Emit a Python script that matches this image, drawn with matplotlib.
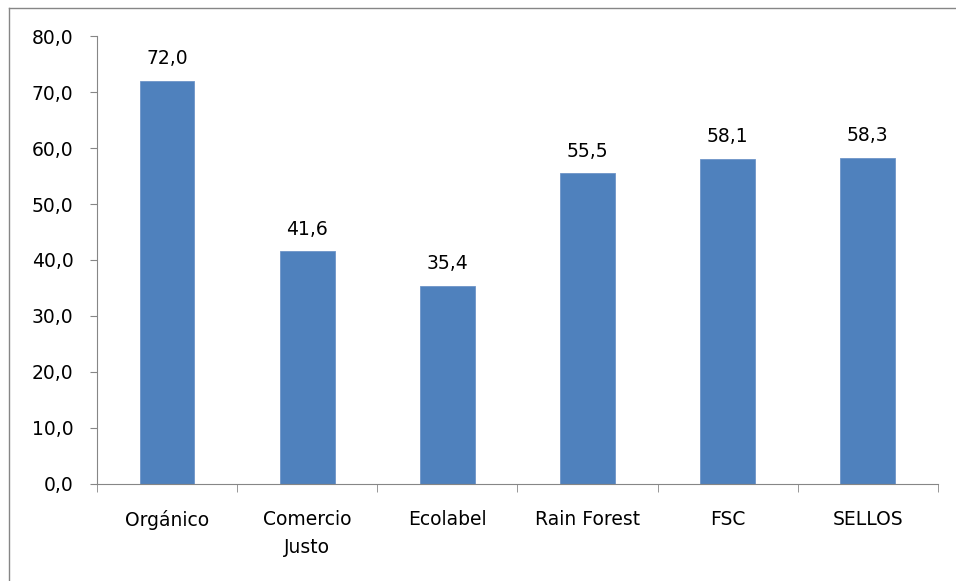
import matplotlib.pyplot as plt
from matplotlib.lines import Line2D

# Data
categorias = ['Orgánico', 'Comercio\nJusto', 'Ecolabel', 'Rain Forest', 'FSC', 'SELLOS']
valores = [72.0, 41.6, 35.4, 55.5, 58.1, 58.3]
yticks = [0, 10, 20, 30, 40, 50, 60, 70, 80]

plt.rcParams['font.family'] = ['DejaVu Sans']

fig = plt.figure(figsize=(9.56, 5.81), dpi=100)
ax = fig.add_axes([0.1015, 0.167, 0.8795, 0.771])

# outer chart frame (only left/top visible in the reference)
fig.add_artist(Line2D([0.0094, 0.0094], [0, 0.986], color='#868686', lw=1))
fig.add_artist(Line2D([0.0094, 1.0], [0.986, 0.986], color='#868686', lw=1))

x = range(len(categorias))
bars = ax.bar(x, valores, width=0.39, color='#4F81BD', edgecolor='#6E95C8', lw=0.6)

for xi, v in zip(x, valores):
    ax.annotate(f'{v:.1f}'.replace('.', ','), (xi, v), xytext=(0, 9),
                textcoords='offset points', ha='center', va='bottom', fontsize=13.5)

ax.set_xlim(-0.5, len(categorias) - 0.5)
ax.set_ylim(0, 80)
ax.set_yticks(yticks)
ax.set_yticklabels([f'{t:.1f}'.replace('.', ',') for t in yticks], fontsize=13.5)

ax.set_xticks(list(x))
ax.set_xticklabels(categorias, fontsize=13.5, linespacing=1.6)
ax.set_xticks([i - 0.5 for i in range(len(categorias) + 1)], minor=True)
ax.tick_params(axis='x', which='major', length=0, pad=19)
ax.tick_params(axis='x', which='minor', length=6, color='#868686', direction='out')
ax.tick_params(axis='y', length=5, color='#868686', direction='out', pad=12)

for s in ['top', 'right']:
    ax.spines[s].set_visible(False)
for s in ['left', 'bottom']:
    ax.spines[s].set_color('#868686')

fig.savefig('out.png', dpi=100)
